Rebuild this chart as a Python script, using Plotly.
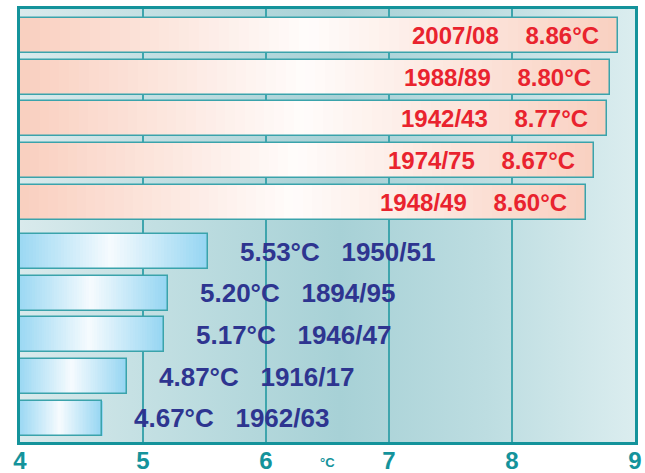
import base64
import plotly.graph_objects as go

# ---------------- data ----------------
warm_seasons = ["2007/08", "1988/89", "1942/43", "1974/75", "1948/49"]
warm_temps = [8.86, 8.80, 8.77, 8.67, 8.60]
cold_seasons = ["1950/51", "1894/95", "1946/47", "1916/17", "1962/63"]
cold_temps = [5.53, 5.20, 5.17, 4.87, 4.67]
x_ticks = [4, 5, 6, 7, 8, 9]
x_unit_label = "°C"
AXIS_MIN, AXIS_MAX = 4, 9

categories = warm_seasons + cold_seasons

# ---------------- styles ----------------
FONT = "Liberation Sans, Arial, sans-serif"
TEAL = "#14939b"
GRID = "#3fa5ad"
OUTLINE = "#3aa3ab"
RED_TXT = "#e9232e"
BLUE_TXT = "#2e3590"
NB = "\u00a0"
N_SEG = 60
BAR_W = 0.843
SHIFT = 0.0976

red_stops = [(0.0, "#f9cfbf"), (0.48, "#fffcfb"), (1.0, "#f9d0c0")]
blue_stops = [(0.0, "#9bd8f3"), (0.48, "#f6fbfe"), (1.0, "#94d5f2")]


def hex2rgb(h):
    h = h.lstrip("#")
    return tuple(int(h[i:i + 2], 16) for i in (0, 2, 4))


def interp(stops, t):
    for (t0, c0), (t1, c1) in zip(stops[:-1], stops[1:]):
        if t0 <= t <= t1:
            a = (t - t0) / (t1 - t0) if t1 > t0 else 0
            r0, r1 = hex2rgb(c0), hex2rgb(c1)
            return "rgb(%d,%d,%d)" % tuple(round(r0[i] + (r1[i] - r0[i]) * a) for i in range(3))
    return stops[-1][1]


fig = go.Figure()

groups = [
    (warm_seasons, warm_temps, red_stops, -BAR_W / 2 - SHIFT),
    (cold_seasons, cold_temps, blue_stops, -BAR_W / 2 + SHIFT),
]
for seasons, temps, stops, off in groups:
    lengths = [t - AXIS_MIN for t in temps]
    for k in range(N_SEG):
        f = k / N_SEG
        fig.add_trace(go.Bar(
            y=seasons, x=[L * (1 - f) for L in lengths],
            base=[AXIS_MIN + L * f for L in lengths],
            orientation="h", width=BAR_W, offset=off,
            marker=dict(color=interp(stops, (k + 0.5) / N_SEG), line=dict(width=0)),
            hoverinfo="skip", showlegend=False,
        ))
    fig.add_trace(go.Bar(
        y=seasons, x=lengths, base=AXIS_MIN,
        orientation="h", width=BAR_W, offset=off,
        marker=dict(color="rgba(0,0,0,0)", line=dict(color=OUTLINE, width=1.5)),
        hovertemplate="%{y}: %{customdata:.2f}°C<extra></extra>",
        customdata=temps, showlegend=False,
    ))

annotations = []
for s, t in zip(warm_seasons, warm_temps):
    annotations.append(dict(
        x=t, y=s, xref="x", yref="y", text=f"{s}{NB*4}{t:.2f}°C",
        showarrow=False, xanchor="right", yanchor="middle", xshift=-17,
        yshift=SHIFT * 41.5,
        font=dict(family=FONT, size=24, color=RED_TXT, weight="bold"),
    ))
for s, t in zip(cold_seasons, cold_temps):
    annotations.append(dict(
        x=t, y=s, xref="x", yref="y", text=f"{t:.2f}°C{NB*3}{s}",
        showarrow=False, xanchor="left", yanchor="middle", xshift=30,
        yshift=-SHIFT * 41.5,
        font=dict(family=FONT, size=26, color=BLUE_TXT, weight="bold"),
    ))
annotations.append(dict(
    x=6.5, y=-0.047, xref="x", yref="paper", text=x_unit_label,
    showarrow=False, xanchor="center", yanchor="middle",
    font=dict(family=FONT, size=13, color=TEAL, weight="bold"),
))

svg = ('<svg xmlns="http://www.w3.org/2000/svg" width="100" height="100" '
       'viewBox="0 0 100 100" preserveAspectRatio="none"><defs>'
       '<linearGradient id="g" x1="0" y1="0" x2="1" y2="0">'
       '<stop offset="0" stop-color="#d9eaec"/>'
       '<stop offset="0.2" stop-color="#c4e0e3"/>'
       '<stop offset="0.52" stop-color="#a7d1d6"/>'
       '<stop offset="0.76" stop-color="#bddde1"/>'
       '<stop offset="1" stop-color="#dbedef"/>'
       '</linearGradient></defs><rect width="100" height="100" fill="url(#g)"/></svg>')
bg_src = "data:image/svg+xml;base64," + base64.b64encode(svg.encode()).decode()

fig.update_layout(
    width=645, height=473,
    margin=dict(l=20, r=10, t=9, b=31, autoexpand=False),
    paper_bgcolor="white", plot_bgcolor="rgba(0,0,0,0)",
    barmode="overlay", bargap=0,
    annotations=annotations,
    images=[dict(source=bg_src, xref="paper", yref="paper", x=0, y=1,
                 sizex=1, sizey=1, xanchor="left", yanchor="top",
                 sizing="stretch", layer="below")],
    xaxis=dict(range=[AXIS_MIN, AXIS_MAX], tickvals=x_ticks,
               ticktext=[str(v) for v in x_ticks], automargin=False,
               showgrid=True, gridcolor=GRID, gridwidth=1.5,
               showline=True, linecolor=TEAL, linewidth=3, mirror=True,
               zeroline=False, ticks="", ticklabelstandoff=-5,
               tickfont=dict(family=FONT, size=24, color=TEAL, weight="bold")),
    yaxis=dict(type="category", categoryorder="array", categoryarray=categories,
               range=[9.671, -0.739], showticklabels=False, showgrid=False,
               automargin=False,
               showline=True, linecolor=TEAL, linewidth=3, mirror=True,
               zeroline=False, ticks=""),
)

fig.write_html(
    "out.html",
    config={"displayModeBar": False},
    post_script="document.body.style.margin='0';document.body.style.overflow='hidden';",
)
